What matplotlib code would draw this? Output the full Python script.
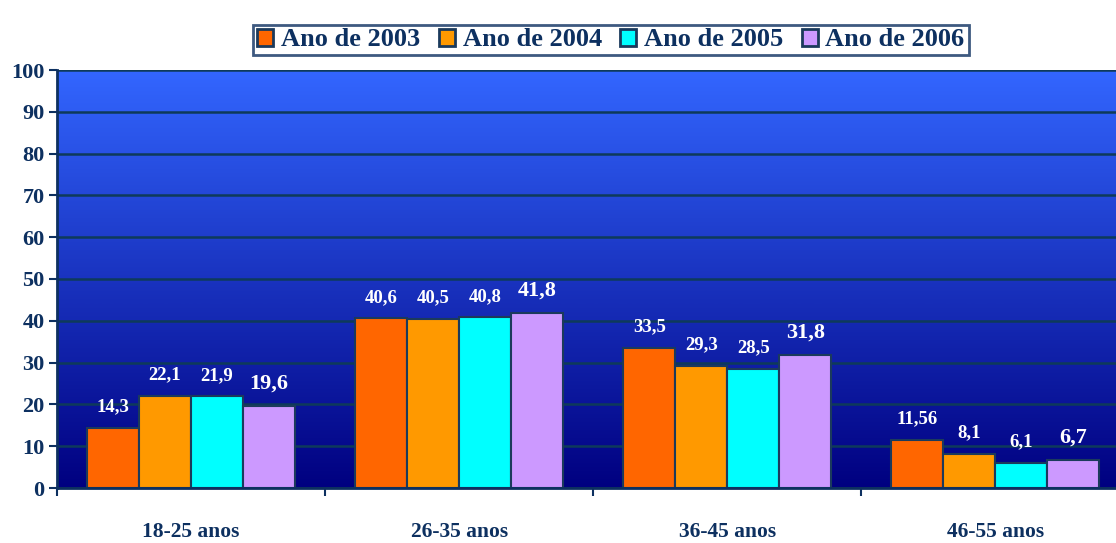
import numpy as np
import matplotlib.pyplot as plt
from matplotlib.colors import LinearSegmentedColormap

categories = ['18-25 anos', '26-35 anos', '36-45 anos', '46-55 anos']
series_names = ['Ano de 2003', 'Ano de 2004', 'Ano de 2005', 'Ano de 2006']
values = {
    'Ano de 2003': [14.3, 40.6, 33.5, 11.56],
    'Ano de 2004': [22.1, 40.5, 29.3, 8.1],
    'Ano de 2005': [21.9, 40.8, 28.5, 6.1],
    'Ano de 2006': [19.6, 41.8, 31.8, 6.7],
}
labels = {
    'Ano de 2003': ['14,3', '40,6', '33,5', '11,56'],
    'Ano de 2004': ['22,1', '40,5', '29,3', '8,1'],
    'Ano de 2005': ['21,9', '40,8', '28,5', '6,1'],
    'Ano de 2006': ['19,6', '41,8', '31,8', '6,7'],
}
colors = ['#FF6600', '#FF9900', '#00FFFF', '#CC99FF']
yticks = [0, 10, 20, 30, 40, 50, 60, 70, 80, 90, 100]

navy = '#0D3060'
edge = '#1B3A5C'
plt.rcParams['font.family'] = ['Liberation Serif', 'DejaVu Serif']
plt.rcParams['font.weight'] = 'bold'

fig = plt.figure(figsize=(11.16, 5.43), dpi=100)
ax = fig.add_axes([57 / 1116, 1 - 488 / 543, 1 - 57 / 1116, (488 - 70) / 543])

# background gradient (light blue top -> navy bottom)
cmap = LinearSegmentedColormap.from_list('bg', ['#000080', '#3366FF'])
grad = np.linspace(0, 1, 256).reshape(-1, 1)
ax.imshow(grad, cmap=cmap, aspect='auto', origin='lower',
          extent=[0, 1, 0, 1], transform=ax.transAxes, zorder=0)

x = np.arange(len(categories))
bw = 0.194
for i, name in enumerate(series_names):
    pos = x - 1.5 * bw + i * bw
    bars = ax.bar(pos, values[name], width=bw, color=colors[i],
                  edgecolor=edge, linewidth=1.5, zorder=3, label=name)
    fs = 16 if i == 3 else 13.5
    for b, lab in zip(bars, labels[name]):
        ax.annotate(lab, (b.get_x() + b.get_width() / 2, b.get_height()),
                    xytext=(0, 9), textcoords='offset points',
                    ha='center', va='bottom', color='white',
                    fontsize=fs, fontweight='bold', zorder=4)

ax.set_xlim(-0.5, 3.45)
ax.set_ylim(0, 100)
ax.set_yticks(yticks)
ax.set_yticklabels([str(t) for t in yticks], fontsize=16, color=navy,
                   fontweight='bold')
ax.yaxis.grid(True, color='#0E3A5A', linewidth=1.8, zorder=1)
ax.set_xticks(np.append(-0.5, x[:-1] + 0.5))
ax.set_xticklabels([])
for xi, c in zip(x, categories):
    ax.text(xi, -0.105, c, transform=ax.get_xaxis_transform(), ha='center',
            va='center', fontsize=15.5, color=navy, fontweight='bold')
ax.tick_params(axis='both', direction='out', length=6, width=1.5, color=navy)
ax.tick_params(axis='y', pad=3)
for s in ['top', 'right']:
    ax.spines[s].set_visible(False)
for s in ['left', 'bottom']:
    ax.spines[s].set_color(navy)
    ax.spines[s].set_linewidth(2)
ax.spines['bottom'].set_zorder(5)

leg = fig.legend(loc='center', bbox_to_anchor=(611 / 1116, 1 - 40 / 543),
                 ncol=4, frameon=True, fancybox=False, shadow=False,
                 fontsize=19, handlelength=0.6, handleheight=0.6,
                 handletextpad=0.3, columnspacing=0.7, borderpad=0.15,
                 borderaxespad=0, edgecolor=navy)
leg.get_frame().set_linewidth(2)
for t in leg.get_texts():
    t.set_color(navy)
    t.set_fontweight('bold')
for h in leg.legend_handles:
    h.set_edgecolor(edge)
    h.set_linewidth(2)

fig.savefig('out.png', dpi=100)
